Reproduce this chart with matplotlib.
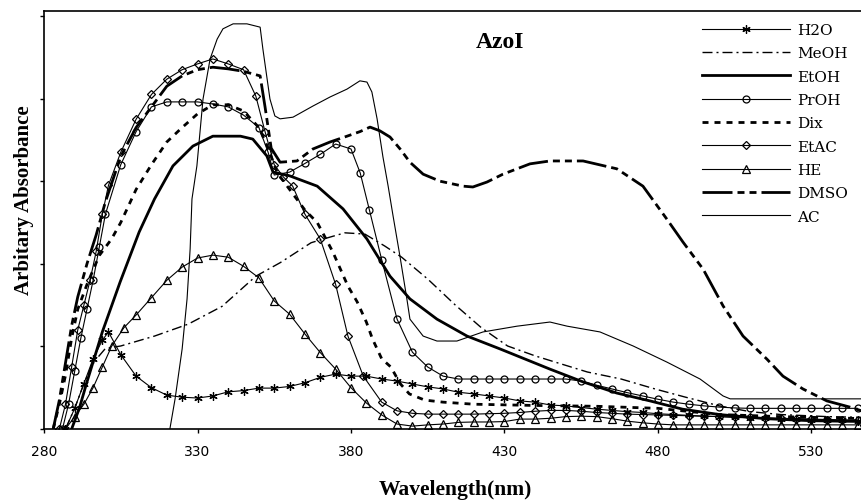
import matplotlib
matplotlib.use("Agg")
import matplotlib.pyplot as plt

plt.rcParams["lines.scale_dashes"] = False

# wavelength (nm) and absorbance for each solvent
h2o_wl = [287, 290, 293, 296, 299, 301, 305, 310, 315, 320, 325, 330, 335, 340, 345, 350,
          355, 360, 365, 370, 375, 380, 385, 390, 395, 400, 405, 410, 415, 420, 425, 430,
          435, 440, 445, 450, 455, 460, 465, 470, 475, 480, 485, 490, 495, 500, 505, 510,
          515, 520, 525, 530, 535, 540, 545]
h2o_abs = [0, 0.05, 0.11, 0.17, 0.215, 0.235, 0.18, 0.128, 0.10, 0.082, 0.077, 0.075, 0.080,
           0.090, 0.093, 0.099, 0.099, 0.103, 0.112, 0.125, 0.133, 0.128, 0.128, 0.121, 0.116,
           0.109, 0.102, 0.097, 0.089, 0.085, 0.080, 0.075, 0.068, 0.065, 0.058, 0.056, 0.052,
           0.048, 0.045, 0.042, 0.040, 0.037, 0.035, 0.033, 0.031, 0.030, 0.028, 0.027, 0.026,
           0.025, 0.024, 0.023, 0.022, 0.021, 0.020]

meoh_wl = [287, 290, 293, 296, 300, 305, 316, 327, 338, 349, 357, 367, 371, 378, 384.5, 391,
           396.5, 405, 414, 422.5, 431, 440, 446.5, 457, 468, 479, 489, 500, 510, 520, 535, 548]
meoh_abs = [0, 0.05, 0.11, 0.16, 0.195, 0.201, 0.225, 0.254, 0.297, 0.370, 0.403, 0.451, 0.460,
            0.475, 0.472, 0.443, 0.416, 0.363, 0.300, 0.245, 0.201, 0.177, 0.162, 0.138, 0.121,
            0.097, 0.077, 0.056, 0.042, 0.035, 0.030, 0.028]

etoh_wl = [289, 291.5, 294, 299, 304.8, 311, 316, 322, 328.5, 335, 344, 348, 352.6, 354.6, 360,
           369, 377.4, 385.2, 392.7, 399.2, 408, 417.8, 428.5, 444.8, 455.6, 466.6, 477.4, 488,
           500, 515, 530, 548]
etoh_abs = [0, 0.05, 0.114, 0.235, 0.356, 0.477, 0.557, 0.637, 0.685, 0.709, 0.709, 0.702, 0.661,
            0.622, 0.613, 0.588, 0.533, 0.460, 0.370, 0.315, 0.266, 0.225, 0.194, 0.145, 0.114,
            0.087, 0.068, 0.048, 0.035, 0.025, 0.020, 0.018]

proh_wl = [286, 288, 290, 292, 294, 296, 298, 300, 305, 310, 315, 320, 325, 330, 335, 340, 345,
           350, 353, 355, 360, 365, 370, 375, 380, 383, 386, 390, 395, 400, 405, 410, 415, 420,
           425, 430, 435, 440, 445, 450, 455, 460, 465, 470, 475, 480, 485, 490, 495, 500, 505,
           510, 515, 520, 525, 530, 535, 540, 545]
proh_abs = [0, 0.06, 0.14, 0.22, 0.29, 0.36, 0.44, 0.52, 0.64, 0.72, 0.78, 0.792, 0.792, 0.792,
            0.787, 0.78, 0.76, 0.73, 0.67, 0.615, 0.622, 0.643, 0.665, 0.69, 0.678, 0.62, 0.53,
            0.41, 0.266, 0.186, 0.15, 0.128, 0.121, 0.121, 0.121, 0.121, 0.121, 0.121, 0.121,
            0.121, 0.116, 0.106, 0.097, 0.088, 0.080, 0.072, 0.065, 0.060, 0.056, 0.053, 0.051,
            0.050, 0.050, 0.050, 0.050, 0.050, 0.050, 0.050, 0.050]

dix_wl = [283, 285, 287, 289, 291, 294, 298, 302, 305, 310, 315, 320, 325, 330, 335, 340, 345,
          350, 353, 356, 360, 365, 369, 374, 379, 382, 385, 387, 390, 393, 396, 399, 404, 410,
          420, 440, 460, 480, 500, 520, 548]
dix_abs = [0, 0.06, 0.13, 0.22, 0.29, 0.35, 0.42, 0.46, 0.50, 0.58, 0.64, 0.695, 0.73, 0.763,
           0.785, 0.785, 0.77, 0.73, 0.68, 0.62, 0.58, 0.53, 0.50, 0.43, 0.346, 0.308, 0.259,
           0.218, 0.17, 0.15, 0.11, 0.085, 0.07, 0.065, 0.06, 0.057, 0.055, 0.05, 0.035, 0.03,
           0.025]

etac_wl = [285, 287, 289, 291, 293, 295, 297, 299, 301, 305, 310, 315, 320, 325, 330, 335, 340,
           345, 349, 352, 355, 358, 361, 365, 370, 375, 379, 384, 390, 395, 400, 405, 410, 415,
           420, 425, 430, 435, 440, 445, 450, 455, 460, 465, 470, 475, 480, 485, 490, 495, 500,
           505, 510, 515, 520, 525, 530, 535, 540, 545]
etac_abs = [0, 0.06, 0.15, 0.24, 0.30, 0.36, 0.43, 0.52, 0.59, 0.67, 0.75, 0.81, 0.847, 0.87,
            0.884, 0.896, 0.884, 0.87, 0.806, 0.72, 0.64, 0.61, 0.588, 0.52, 0.46, 0.35, 0.225,
            0.128, 0.065, 0.044, 0.038, 0.036, 0.036, 0.036, 0.036, 0.037, 0.038, 0.040, 0.043,
            0.045, 0.045, 0.043, 0.040, 0.038, 0.036, 0.035, 0.034, 0.033, 0.032, 0.031, 0.030,
            0.029, 0.028, 0.027, 0.026, 0.025, 0.024, 0.023, 0.022, 0.022]

he_wl = [287, 290, 293, 296, 299, 302, 306, 310, 315, 320, 325, 330, 335, 340, 345, 350, 355,
         360, 365, 370, 375, 380, 385, 390, 395, 400, 405, 410, 415, 420, 425, 430, 435, 440,
         445, 450, 455, 460, 465, 470, 475, 480, 485, 490, 495, 500, 505, 510, 515, 520, 525,
         530, 535, 540, 545]
he_abs = [0, 0.03, 0.06, 0.10, 0.15, 0.20, 0.245, 0.276, 0.318, 0.36, 0.392, 0.414, 0.421, 0.416,
          0.394, 0.366, 0.31, 0.278, 0.23, 0.185, 0.145, 0.10, 0.063, 0.034, 0.012, 0.007, 0.010,
          0.012, 0.016, 0.017, 0.017, 0.018, 0.024, 0.024, 0.026, 0.030, 0.031, 0.030, 0.025,
          0.019, 0.015, 0.012, 0.010, 0.010, 0.010, 0.010, 0.010, 0.010, 0.010, 0.010, 0.010,
          0.010, 0.010, 0.010, 0.010]

dmso_wl = [283, 285, 287, 289, 291, 294, 297, 300, 305, 310, 315, 320, 325, 330, 335, 340, 345,
           350.4, 352, 354, 356.9, 362.4, 367.6, 373.2, 378.7, 382.9, 386.2, 389.4, 392.7, 396,
           399.2, 403.5, 409, 416.5, 419.7, 424.3, 429.5, 438.3, 444.8, 455.6, 466.6, 475.1,
           482.9, 488.1, 494.7, 501.2, 507.7, 515.5, 520.7, 527.2, 535, 542.5, 548]
dmso_abs = [0, 0.07, 0.16, 0.25, 0.32, 0.40, 0.47, 0.55, 0.66, 0.73, 0.78, 0.83, 0.855, 0.87,
            0.876, 0.872, 0.866, 0.855, 0.78, 0.68, 0.646, 0.649, 0.678, 0.695, 0.709, 0.72,
            0.731, 0.722, 0.707, 0.678, 0.646, 0.617, 0.600, 0.588, 0.586, 0.598, 0.617, 0.642,
            0.649, 0.649, 0.630, 0.588, 0.508, 0.453, 0.387, 0.298, 0.225, 0.169, 0.128, 0.097,
            0.068, 0.053, 0.040]

ac_wl = [321, 322.7, 325, 326.6, 327.6, 328.2, 329.8, 331.8, 334.1, 336.4, 338.3, 341.6, 346.1,
         350.4, 351.3, 353.6, 355.2, 356.9, 361.1, 367.6, 373.2, 378.7, 382.9, 385.2, 386.8,
         388.5, 390.4, 392.1, 393.7, 396, 398.2, 399.2, 403.5, 408, 414.5, 423, 434.1, 444.8,
         450.4, 461.1, 471.9, 482.9, 493.7, 501.2, 503.5, 548]
ac_abs = [0, 0.073, 0.194, 0.315, 0.436, 0.557, 0.637, 0.799, 0.896, 0.944, 0.969, 0.981, 0.981,
          0.973, 0.92, 0.799, 0.758, 0.751, 0.755, 0.782, 0.804, 0.823, 0.843, 0.84, 0.816,
          0.751, 0.659, 0.588, 0.516, 0.416, 0.315, 0.266, 0.225, 0.213, 0.213, 0.235, 0.249,
          0.259, 0.249, 0.235, 0.201, 0.162, 0.121, 0.080, 0.073, 0.073]

x_ticks = [280, 330, 380, 430, 480, 530]

# dash patterns in points (1 px = 0.72 pt at 100 dpi)
px = 0.72
meoh_ls = (0, (10 * px, 4 * px, 2 * px, 4 * px))
dix_ls = (0, (6 * px, 6 * px))
dmso_ls = (0, (30 * px, 5 * px, 7 * px, 5 * px, 7 * px, 5 * px))

fig = plt.figure(figsize=(8.62, 5.02), dpi=100)
ax = fig.add_axes([44 / 862, 72 / 502, 818 / 862, 418 / 502])

thin = 0.8
thick = 2.0
ax.plot(h2o_wl, h2o_abs, color="k", lw=thin, marker=(6, 2, 0), ms=6, mew=0.9, label="H2O")
ax.plot(meoh_wl, meoh_abs, color="k", lw=1.0, ls=meoh_ls, label="MeOH")
ax.plot(etoh_wl, etoh_abs, color="k", lw=thick, label="EtOH")
ax.plot(proh_wl, proh_abs, color="k", lw=thin, marker="o", ms=5, mfc="none", mew=0.9, label="PrOH")
ax.plot(dix_wl, dix_abs, color="k", lw=thick, ls=dix_ls, label="Dix")
ax.plot(etac_wl, etac_abs, color="k", lw=thin, marker="D", ms=4, mfc="none", mew=0.9, label="EtAC")
ax.plot(he_wl, he_abs, color="k", lw=thin, marker="^", ms=5.5, mfc="none", mew=0.9, label="HE")
ax.plot(dmso_wl, dmso_abs, color="k", lw=thick, ls=dmso_ls, label="DMSO")
ax.plot(ac_wl, ac_abs, color="k", lw=thin, label="AC")

ax.set_xlim(280, 280 + 818 / 3.07)
ax.set_ylim(0, 418 / 413)
ax.set_xticks(x_ticks)
ax.set_yticks([0, 0.2, 0.4, 0.6, 0.8, 1.0])
ax.set_yticklabels([])
ax.tick_params(axis="both", direction="out", length=3, width=1, color="k")
ax.tick_params(axis="x", pad=8, labelsize=10)
for lab in ax.get_xticklabels():
    lab.set_family("DejaVu Sans")
ax.spines["right"].set_visible(False)
for s in ["left", "bottom", "top"]:
    ax.spines[s].set_linewidth(1.2)

serif = ["Liberation Serif", "DejaVu Serif"]
fig.text(455 / 862, 1 - 490 / 502, "Wavelength(nm)", ha="center", va="center",
         family=serif, weight="bold", fontsize=15.5)
fig.text(24 / 862, 1 - 200 / 502, "Arbitary Absorbance", ha="center", va="center",
         rotation=90, family=serif, weight="bold", fontsize=15)
fig.text(500 / 862, 1 - 43 / 502, "AzoI", ha="center", va="center",
         family=serif, weight="bold", fontsize=17)

ax.legend(loc="upper left", bbox_to_anchor=(702 / 862, 1 - 24 / 502),
          bbox_transform=fig.transFigure, frameon=False, numpoints=1,
          prop={"family": "DejaVu Serif", "size": 11},
          handlelength=5.76, handletextpad=0.46, labelspacing=0.61,
          borderpad=0, borderaxespad=0)

fig.savefig("out.png", dpi=100)
